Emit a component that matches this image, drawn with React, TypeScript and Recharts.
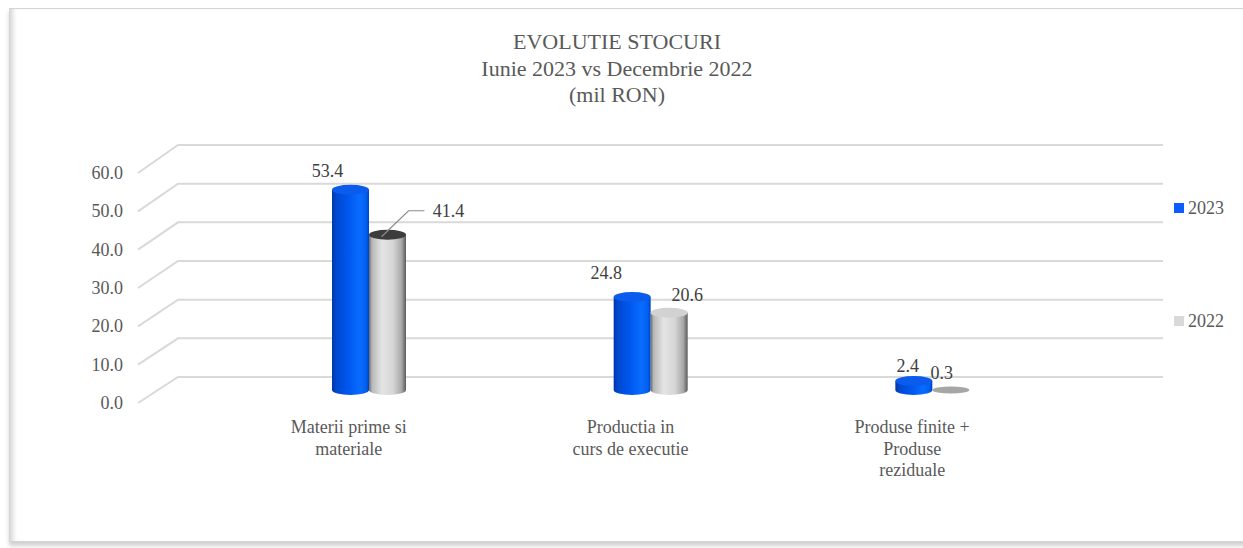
import React from "react";
import { BarChart, Bar, XAxis, YAxis, CartesianGrid, LabelList } from "recharts";

// ---- data ----
const CATEGORIES = [
  "Materii prime si\nmateriale",
  "Productia in\ncurs de executie",
  "Produse finite +\nProduse\nreziduale",
];
const VALUES_2023 = [53.4, 24.8, 2.4];
const VALUES_2022 = [41.4, 20.6, 0.3];
const SERIES_NAMES = ["2023", "2022"];
const Y_TICKS = [0, 10, 20, 30, 40, 50, 60];
const TITLE_LINES = ["EVOLUTIE STOCURI", "Iunie 2023 vs Decembrie 2022", "(mil RON)"];

const data = CATEGORIES.map((name, i) => ({
  name,
  v2023: VALUES_2023[i],
  v2022: VALUES_2022[i],
}));

// ---- style / layout ----
const W = 1243;
const H = 548;
const FONT = '"Liberation Serif", "Times New Roman", serif';
const PLOT_TOP = 165;
const PLOT_BOTTOM = 390;
const PLOT_H = PLOT_BOTTOM - PLOT_TOP;
const BACK_ZERO = 377;
const BACK_H = 232;
const FRONT_ZERO = 403;
const FRONT_H = 230;
const DEPTH_X = 40;

const BLUE_STOPS = [
  [0, "#0036a8"],
  [0.12, "#0048d0"],
  [0.45, "#0058f0"],
  [0.75, "#0a6cff"],
  [0.92, "#0060f0"],
  [1, "#0042c0"],
];
const GRAY_STOPS = [
  [0, "#6a6a6a"],
  [0.08, "#b8b8b8"],
  [0.35, "#e4e4e4"],
  [0.65, "#d6d6d6"],
  [0.88, "#a8a8a8"],
  [1, "#5a5a5a"],
];
const BLUE_TOP = "#0b5cec";
const GRAY_TOPS = ["#3c3c3c", "#d2d2d2", "#a6a6a6"];
const BLUE_LABEL_OFFSETS = [[-23, -19], [-26, -24], [-6, -15]];
const GRAY_LABEL_OFFSETS = [[61, -24], [18, -18], [-9, -16]];
const GRAY_LEADER = [true, false, false];

function Cylinder(props: any) {
  const { x, y, width, height, index, kind } = props;
  if (width == null || height == null) return null;
  const rx = width / 2;
  const ry = 5;
  const cx = x + rx;
  const bottom = y + height;
  const id = `cyl-${kind}-${index}`;
  const stops = kind === "blue" ? BLUE_STOPS : GRAY_STOPS;
  const topFill = kind === "blue" ? BLUE_TOP : GRAY_TOPS[index];
  if (height < 3) {
    return <ellipse cx={cx} cy={bottom} rx={rx} ry={3.6} fill={topFill} />;
  }
  return (
    <g>
      <defs>
        <linearGradient id={id} x1="0" y1="0" x2="1" y2="0">
          {stops.map(([o, c], i) => (
            <stop key={i} offset={o as number} stopColor={c as string} />
          ))}
        </linearGradient>
      </defs>
      <path
        d={`M${x},${y} L${x},${bottom} A${rx},${ry} 0 0 0 ${x + width},${bottom} L${x + width},${y} Z`}
        fill={`url(#${id})`}
      />
      <ellipse cx={cx} cy={y} rx={rx} ry={ry} fill={topFill} />
    </g>
  );
}

const labelStyle = { fontFamily: FONT, fontSize: 18, fill: "#404040" };

function BlueLabel(props: any) {
  const { x, y, width, value, index } = props;
  const [dx, dy] = BLUE_LABEL_OFFSETS[index];
  return (
    <text x={x + width / 2 + dx} y={y + dy} textAnchor="middle" dominantBaseline="central" style={labelStyle}>
      {Number(value).toFixed(1)}
    </text>
  );
}

function GrayLabel(props: any) {
  const { x, y, width, value, index } = props;
  const [dx, dy] = GRAY_LABEL_OFFSETS[index];
  const cx = x + width / 2;
  return (
    <g>
      {GRAY_LEADER[index] && (
        <path
          d={`M${cx - 6},${y + 2} L${cx + 21},${y - 24} L${cx + 37},${y - 24}`}
          stroke="#8c8c8c"
          strokeWidth={1.2}
          fill="none"
        />
      )}
      <text x={cx + dx} y={y + dy} textAnchor="middle" dominantBaseline="central" style={labelStyle}>
        {Number(value).toFixed(1)}
      </text>
    </g>
  );
}

function gridLine(p: any) {
  const t = (PLOT_BOTTOM - p.y1) / PLOT_H;
  const by = BACK_ZERO - t * BACK_H;
  const fy = FRONT_ZERO - t * FRONT_H;
  return (
    <path
      key={p.key ?? `g${p.index}`}
      d={`M${p.x1},${fy} L${p.x1 + DEPTH_X},${by} L${p.x2},${by}`}
      stroke="#d9d9d9"
      strokeWidth={2}
      fill="none"
    />
  );
}

function YTick(props: any) {
  const { y, payload } = props;
  const t = (PLOT_BOTTOM - y) / PLOT_H;
  const fy = FRONT_ZERO - t * FRONT_H;
  return (
    <text x={123} y={fy} textAnchor="end" dominantBaseline="central" style={{ fontFamily: FONT, fontSize: 18, fill: "#595959" }}>
      {Number(payload.value).toFixed(1)}
    </text>
  );
}

function XTick(props: any) {
  const { x, payload } = props;
  const lines = String(payload.value).split("\n");
  return (
    <text textAnchor="middle" style={{ fontFamily: FONT, fontSize: 18, fill: "#595959" }}>
      {lines.map((l, i) => (
        <tspan key={i} x={x - 20} y={427 + i * 21.5} dominantBaseline="central">
          {l}
        </tspan>
      ))}
    </text>
  );
}

export default function App() {
  return (
    <div style={{ position: "absolute", left: 0, top: 0, width: W, height: H, background: "#fff", overflow: "hidden" }}>
      <div
        style={{
          position: "absolute",
          left: 9,
          top: 8,
          width: 1240,
          height: 532,
          border: "1px solid #d4d4d4",
          boxShadow: "inset 6px 0 5px -3px rgba(0,0,0,0.16), 0 4px 4px rgba(0,0,0,0.18)",
          background: "#fff",
        }}
      />
      <div
        style={{
          position: "absolute",
          left: 367,
          top: 29,
          width: 500,
          textAlign: "center",
          fontFamily: FONT,
          fontSize: 22,
          lineHeight: "26.5px",
          color: "#595959",
        }}
      >
        {TITLE_LINES.map((l, i) => (
          <div key={i}>{l}</div>
        ))}
      </div>
      <div style={{ position: "absolute", left: 0, top: 0 }}>
        <BarChart
          width={W}
          height={H}
          data={data}
          margin={{ top: PLOT_TOP, right: 80, bottom: 0, left: 0 }}
          barGap={0}
        >
          <CartesianGrid vertical={false} horizontal={gridLine} />
          <YAxis
            width={138}
            domain={[0, 60]}
            ticks={Y_TICKS}
            axisLine={false}
            tickLine={false}
            tick={<YTick />}
            interval={0}
          />
          <XAxis
            dataKey="name"
            height={H - PLOT_BOTTOM}
            padding={{ left: 90, right: 90 }}
            axisLine={false}
            tickLine={false}
            tick={<XTick />}
            interval={0}
          />
          <Bar dataKey="v2023" name={SERIES_NAMES[0]} barSize={37} isAnimationActive={false} shape={(p: any) => <Cylinder {...p} kind="blue" />}>
            <LabelList dataKey="v2023" content={<BlueLabel />} />
          </Bar>
          <Bar dataKey="v2022" name={SERIES_NAMES[1]} barSize={37} isAnimationActive={false} shape={(p: any) => <Cylinder {...p} kind="gray" />}>
            <LabelList dataKey="v2022" content={<GrayLabel />} />
          </Bar>
        </BarChart>
      </div>
      {SERIES_NAMES.map((n, i) => (
        <div
          key={n}
          style={{
            position: "absolute",
            left: 1174,
            top: i === 0 ? 197 : 310,
            display: "flex",
            alignItems: "center",
            fontFamily: FONT,
            fontSize: 18,
            color: "#595959",
            lineHeight: "22px",
          }}
        >
          <span style={{ display: "inline-block", width: 10, height: 10, background: i === 0 ? "#0a5cff" : "#d9d9d9", marginRight: 4 }} />
          {n}
        </div>
      ))}
    </div>
  );
}
